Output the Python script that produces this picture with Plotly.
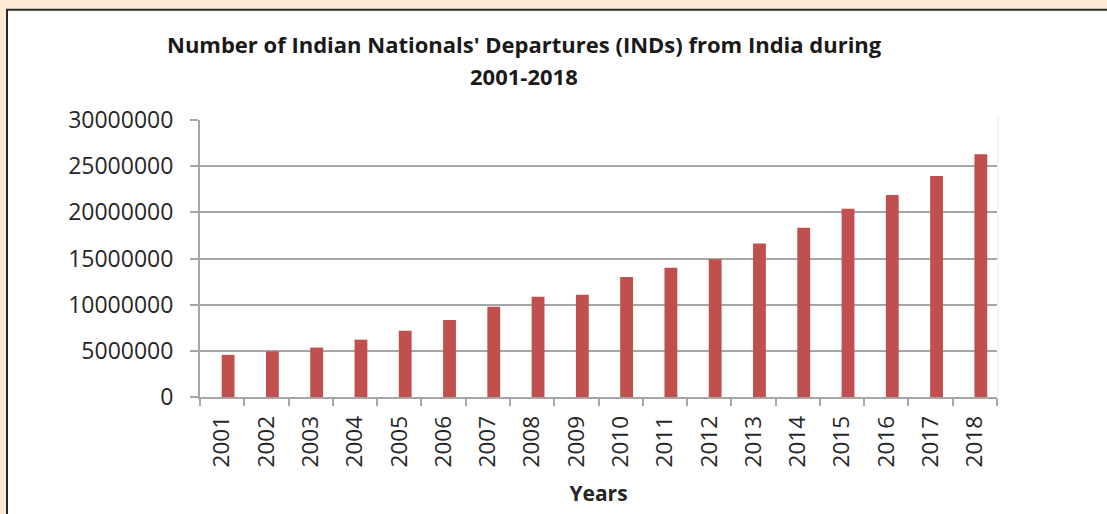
import plotly.graph_objects as go

years = [str(y) for y in range(2001, 2019)]
departures = [4564477, 4940244, 5350896, 6212809, 7184501, 8339614, 9783232,
              10867999, 11066072, 12988001, 13994002, 14924052, 16626316,
              18332319, 20376044, 21871327, 23943509, 26300000]
y_ticks = [0, 5000000, 10000000, 15000000, 20000000, 25000000, 30000000]

W, H = 1107, 514
L, R, T = 200, 1107 - 997, 120
B = H - 399
PW, PH = W - L - R, H - T - B

def px_x(px):  # screen x -> paper
    return (px - L) / PW

def px_y(py):  # screen y -> paper
    return (H - B - py) / PH

fig = go.Figure()
fig.add_trace(go.Bar(
    x=years, y=departures,
    marker=dict(color="#c0504d", line=dict(width=0)),
    width=0.29, offset=-0.01,
))

font = "Open Sans"
fig.update_layout(
    width=W, height=H,
    margin=dict(l=L, r=R, t=T, b=B, pad=0),
    paper_bgcolor="#fdebd6",
    plot_bgcolor="white",
    showlegend=False,
    font=dict(family=font, color="#262626"),
)
fig.update_xaxes(
    type="category", tickson="boundaries",
    ticks="outside", ticklen=7, tickwidth=2, tickcolor="#a6a6a6",
    showline=True, linecolor="#a6a6a6", linewidth=2,
    showgrid=False, tickangle=-90,
    tickfont=dict(size=22.5, color="#262626", family=font),
    ticklabelstandoff=8,
    title=dict(text="<b>Years</b>", font=dict(size=21, color="#262626", family=font), standoff=20),
)
fig.update_yaxes(
    range=[0, 30000000], tickvals=y_ticks, ticktext=[str(v) for v in y_ticks],
    ticks="outside", ticklen=8, tickwidth=2, tickcolor="#a6a6a6",
    showline=True, linecolor="#a6a6a6", linewidth=2,
    showgrid=True, gridcolor="#a6a6a6", gridwidth=2,
    zeroline=False,
    tickfont=dict(size=23, color="#262626", family=font),
    ticklabelstandoff=12,
)
# white chart area with dark border
fig.add_shape(type="rect", xref="paper", yref="paper",
              x0=px_x(7), x1=px_x(1140), y0=px_y(560), y1=px_y(9),
              fillcolor="white", line=dict(color="#2b2b2b", width=2), layer="below")
# faint plot-area border on the right
fig.add_shape(type="line", xref="paper", yref="paper",
              x0=px_x(998), x1=px_x(998), y0=px_y(406), y1=px_y(115),
              line=dict(color="#ececec", width=1), layer="below")
# title
fig.add_annotation(text="<b>Number of Indian Nationals' Departures (INDs) from India during</b>",
                   xref="paper", yref="paper", x=px_x(524), y=px_y(43),
                   xanchor="center", yanchor="middle", showarrow=False,
                   font=dict(size=22, color="#1a1a1a", family=font))
fig.add_annotation(text="<b>2001-2018</b>",
                   xref="paper", yref="paper", x=px_x(524), y=px_y(76),
                   xanchor="center", yanchor="middle", showarrow=False,
                   font=dict(size=22, color="#1a1a1a", family=font))

fig.write_html("out.html",
               config={"displayModeBar": False},
               post_script="document.body.style.margin='0';document.body.style.background='#fdebd6';")
